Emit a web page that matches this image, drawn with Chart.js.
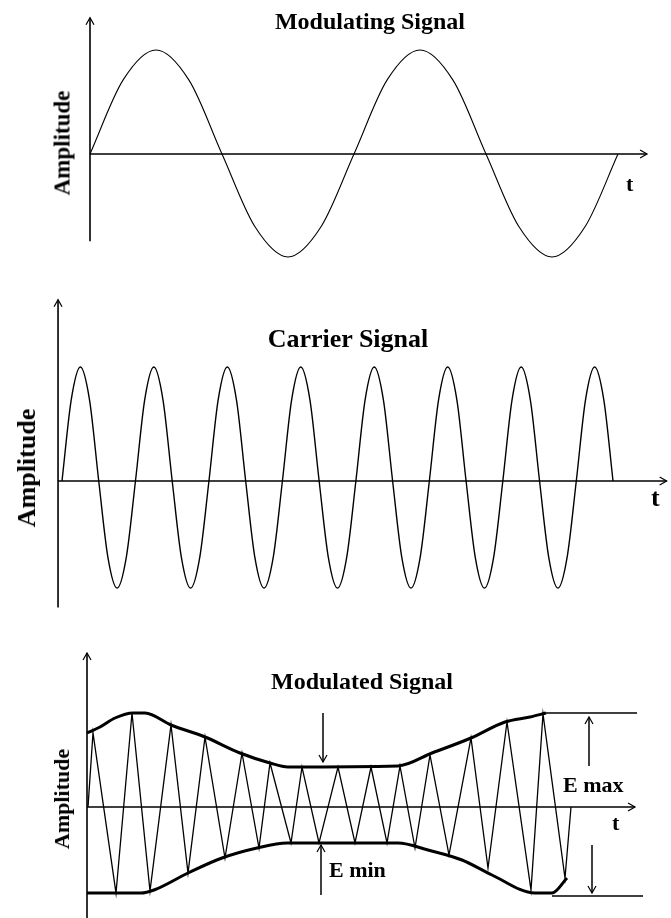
<!DOCTYPE html>
<html>
<head>
<meta charset="utf-8">
<script src="https://cdn.jsdelivr.net/npm/chart.js@4.4.1/dist/chart.umd.min.js"></script>
<style>
    html, body { margin: 0; padding: 0; background: #fff; }
    body { width: 671px; height: 918px; position: relative; overflow: hidden; font-family: "Liberation Serif", "Times New Roman", serif; }
    canvas { position: absolute; left: 0; }
    .lbl { position: absolute; font-weight: bold; color: #000; white-space: nowrap; line-height: 1; }
    .c { transform: translate(-50%, -50%); }
    .l { transform: translate(0, -50%); }
    .rot { transform: translate(-50%, -50%) rotate(-90deg); }
</style>
</head>
<body>
<canvas id="modulating-chart" width="671" height="275" style="top:0"></canvas>
<canvas id="carrier-chart" width="671" height="335" style="top:275px"></canvas>
<canvas id="modulated-chart" width="671" height="308" style="top:610px"></canvas>

<div class="lbl c" style="left:370px;top:21px;font-size:24px">Modulating Signal</div>
<div class="lbl rot" style="left:62px;top:143px;font-size:23px">Amplitude</div>
<div class="lbl l" style="left:626px;top:184px;font-size:22px">t</div>

<div class="lbl c" style="left:348px;top:339px;font-size:26px">Carrier Signal</div>
<div class="lbl rot" style="left:27px;top:468px;font-size:26px">Amplitude</div>
<div class="lbl l" style="left:651px;top:498px;font-size:26px">t</div>

<div class="lbl c" style="left:362px;top:681px;font-size:24px">Modulated Signal</div>
<div class="lbl rot" style="left:62px;top:799px;font-size:22px">Amplitude</div>
<div class="lbl l" style="left:563px;top:785px;font-size:22px">E max</div>
<div class="lbl l" style="left:329px;top:870px;font-size:22px">E min</div>
<div class="lbl l" style="left:612px;top:823px;font-size:22px">t</div>

<script>
// Modulating signal (time in periods of the message)
const modTime = [0, 0.125, 0.25, 0.375, 0.5, 0.625, 0.75, 0.875, 1, 1.125, 1.25, 1.375, 1.5, 1.625, 1.75, 1.875, 2];
const modValues = [0, 0.71, 1, 0.71, 0, -0.7, -0.99, -0.7, 0, 0.71, 1, 0.71, 0, -0.7, -0.99, -0.7, 0];

// Carrier signal (time in carrier periods)
const carrierTime = [
    0, 0.125, 0.25, 0.375, 0.5, 0.625, 0.75, 0.875,
    1, 1.125, 1.25, 1.375, 1.5, 1.625, 1.75, 1.875,
    2, 2.125, 2.25, 2.375, 2.5, 2.625, 2.75, 2.875,
    3, 3.125, 3.25, 3.375, 3.5, 3.625, 3.75, 3.875,
    4, 4.125, 4.25, 4.375, 4.5, 4.625, 4.75, 4.875,
    5, 5.125, 5.25, 5.375, 5.5, 5.625, 5.75, 5.875,
    6, 6.125, 6.25, 6.375, 6.5, 6.625, 6.75, 6.875,
    7, 7.125, 7.25, 7.375, 7.5
];
const carrierValues = [
    0, 0.71, 1, 0.71, 0, -0.67, -0.94, -0.67,
    0, 0.71, 1, 0.71, 0, -0.67, -0.94, -0.67,
    0, 0.71, 1, 0.71, 0, -0.67, -0.94, -0.67,
    0, 0.71, 1, 0.71, 0, -0.67, -0.94, -0.67,
    0, 0.71, 1, 0.71, 0, -0.67, -0.94, -0.67,
    0, 0.71, 1, 0.71, 0, -0.67, -0.94, -0.67,
    0, 0.71, 1, 0.71, 0, -0.67, -0.94, -0.67,
    0, 0.71, 1, 0.71, 0
];

// Modulated signal: carrier vertices between the two envelopes
const amTime = [0.01, 0.06, 0.29, 0.45, 0.63, 0.84, 1.01, 1.18, 1.38, 1.55, 1.72, 1.83, 2.04, 2.15, 2.32,
    2.51, 2.68, 2.84, 3.0, 3.13, 3.28, 3.43, 3.62, 3.84, 4.01, 4.2, 4.44, 4.56, 4.78, 4.84];
const amValues = [0, 0.74, -0.86, 0.94, -0.84, 0.82, -0.66, 0.7, -0.51, 0.54, -0.41, 0.44, -0.36, 0.4, -0.36,
    0.4, -0.36, 0.4, -0.36, 0.41, -0.41, 0.52, -0.48, 0.69, -0.61, 0.85, -0.83, 0.93, -0.71, 0];

const upperEnvTime = [0, 0.13, 0.28, 0.46, 0.58, 0.84, 1.18, 1.53, 1.83, 2.01, 3.11, 3.45, 3.84, 4.18, 4.43, 4.59];
const upperEnvValues = [0.74, 0.8, 0.89, 0.94, 0.94, 0.82, 0.7, 0.54, 0.44, 0.4, 0.41, 0.54, 0.69, 0.85, 0.9, 0.94];
const lowerEnvTime = [0, 0.54, 0.67, 1.01, 1.35, 1.7, 2.0, 3.11, 3.41, 3.75, 4.05, 4.48, 4.65, 4.8];
const lowerEnvValues = [-0.86, -0.86, -0.83, -0.66, -0.51, -0.41, -0.36, -0.36, -0.43, -0.53, -0.68, -0.86, -0.86, -0.71];

// E max reference levels and the arrows that point at the envelope
const eMaxTopTime = [4.59, 5.5];
const eMaxTopValues = [0.94, 0.94];
const eMaxBottomTime = [4.65, 5.56];
const eMaxBottomValues = [-0.89, -0.89];
const markerArrows = [
    { t: 5.02, from: 0.41, to: 0.9 },
    { t: 5.05, from: -0.38, to: -0.86 },
    { t: 2.36, from: 0.94, to: 0.45 },
    { t: 2.34, from: -0.88, to: -0.38 }
];

function points(times, values) {
    return times.map((t, i) => ({ x: t, y: values[i] }));
}

function drawHead(ctx, x, y, dx, dy) {
    // open chevron pointing along (dx, dy)
    const len = 7, wing = 4;
    const bx = x - dx * len, by = y - dy * len;
    ctx.beginPath();
    ctx.moveTo(bx - dy * wing, by + dx * wing);
    ctx.lineTo(x, y);
    ctx.lineTo(bx + dy * wing, by - dx * wing);
    ctx.stroke();
}

const arrowAxes = {
    id: 'arrowAxes',
    afterDatasetsDraw(chart, args, opts) {
        const { ctx } = chart;
        const xs = chart.scales.x, ys = chart.scales.y;
        const ax = xs.getPixelForValue(opts.yAxisAt);
        const ay = ys.getPixelForValue(0);
        const top = ys.getPixelForValue(opts.yTop);
        const bottom = ys.getPixelForValue(opts.yBottom);
        const end = xs.getPixelForValue(opts.xEnd);
        ctx.save();
        ctx.strokeStyle = '#000';
        ctx.lineWidth = 1.6;
        ctx.beginPath();
        ctx.moveTo(ax, bottom);
        ctx.lineTo(ax, top);
        ctx.moveTo(ax, ay);
        ctx.lineTo(end, ay);
        ctx.stroke();
        ctx.lineWidth = 1.2;
        drawHead(ctx, ax, top, 0, -1);
        drawHead(ctx, end, ay, 1, 0);
        (opts.arrows || []).forEach(a => {
            const px = xs.getPixelForValue(a.t);
            const y1 = ys.getPixelForValue(a.from);
            const y2 = ys.getPixelForValue(a.to);
            ctx.lineWidth = 1.5;
            ctx.beginPath();
            ctx.moveTo(px, y1);
            ctx.lineTo(px, y2);
            ctx.stroke();
            ctx.lineWidth = 1.2;
            drawHead(ctx, px, y2, 0, y2 > y1 ? 1 : -1);
        });
        ctx.restore();
    }
};

// pixel anchors of each panel -> scale limits
function makeChart(id, layout, datasets, axes) {
    const canvas = document.getElementById(id);
    const W = canvas.width, H = canvas.height;
    return new Chart(canvas.getContext('2d'), {
        type: 'line',
        data: { datasets: datasets },
        options: {
            responsive: false,
            animation: false,
            devicePixelRatio: 1,
            layout: { padding: 0 },
            parsing: true,
            plugins: { legend: { display: false }, tooltip: { enabled: false }, arrowAxes: axes },
            elements: { point: { radius: 0 } },
            scales: {
                x: { type: 'linear', display: false, min: -layout.x0 / layout.xUnit, max: (W - layout.x0) / layout.xUnit },
                y: { type: 'linear', display: false, min: -(H - layout.y0) / layout.yUnit, max: layout.y0 / layout.yUnit }
            }
        },
        plugins: [arrowAxes]
    });
}

function line(data, width, smooth) {
    return {
        data: data,
        borderColor: '#000',
        borderWidth: width,
        pointRadius: 0,
        fill: false,
        clip: false,
        cubicInterpolationMode: smooth ? 'monotone' : 'default',
        tension: 0
    };
}

makeChart('modulating-chart', { x0: 90, xUnit: 264, y0: 154, yUnit: 104 },
    [line(points(modTime, modValues), 1.1, true)],
    { yAxisAt: 0, xEnd: 2.11, yTop: 1.31, yBottom: -0.84 });

makeChart('carrier-chart', { x0: 62, xUnit: 73.47, y0: 206, yUnit: 114 },
    [line(points(carrierTime, carrierValues), 1.4, true)],
    { yAxisAt: -0.054, xEnd: 8.23, yTop: 1.59, yBottom: -1.11 });

makeChart('modulated-chart', { x0: 87, xUnit: 100, y0: 197, yUnit: 100 },
    [
        line(points(amTime, amValues), 1.3, false),
        line(points(upperEnvTime, upperEnvValues), 3, true),
        line(points(lowerEnvTime, lowerEnvValues), 3, true),
        line(points(eMaxTopTime, eMaxTopValues), 1.5, false),
        line(points(eMaxBottomTime, eMaxBottomValues), 1.5, false)
    ],
    { yAxisAt: 0, xEnd: 5.48, yTop: 1.54, yBottom: -1.12, arrows: markerArrows });
</script>
</body>
</html>
